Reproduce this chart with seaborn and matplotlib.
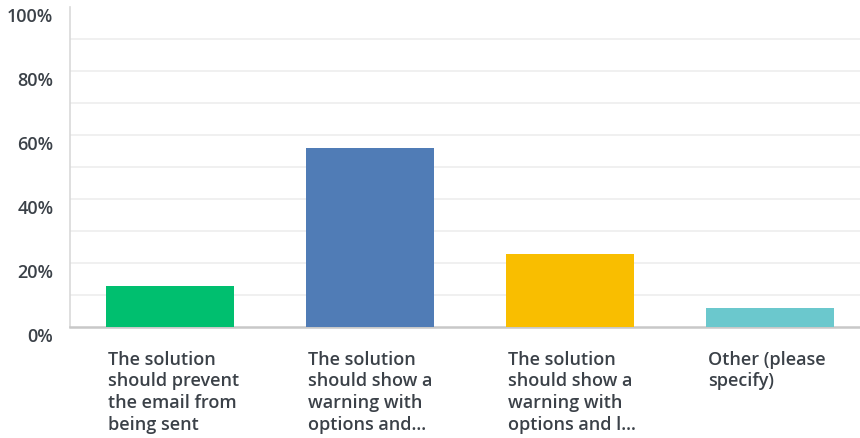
import matplotlib
matplotlib.use("Agg")
import matplotlib.pyplot as plt
import matplotlib.transforms as mtransforms
import seaborn as sns
import pandas as pd

# Survey answers and share of respondents (%)
categories = [
    "The solution\nshould prevent\nthe email from\nbeing sent",
    "The solution\nshould show a\nwarning with\noptions and...",
    "The solution\nshould show a\nwarning with\noptions and l...",
    "Other (please\nspecify)",
]
shares = [13.0, 56.0, 23.0, 6.0]
colors = ["#00BF6F", "#507CB6", "#F9BE00", "#6BC8CD"]
y_ticks = [0, 20, 40, 60, 80, 100]
y_tick_labels = ["0%", "20%", "40%", "60%", "80%", "100%"]

sns.set_theme(style="white")
plt.rcParams["font.family"] = ["Open Sans", "DejaVu Sans"]

df = pd.DataFrame({"answer": categories, "share": shares})

fig = plt.figure(figsize=(8.6, 4.39), dpi=100)
ax = fig.add_axes([70 / 860, 110.7 / 439, 790 / 860, 320.3 / 439])

sns.barplot(
    data=df, x="answer", y="share", hue="answer",
    palette=colors, legend=False, width=0.64, saturation=1,
    edgecolor="none", ax=ax, zorder=3,
)

ax.set_ylim(0, 100)
ax.set_xlim(-0.5, 3.45)
ax.set_xlabel("")
ax.set_ylabel("")

# light horizontal guides every 10%
for v in range(10, 100, 10):
    ax.axhline(v, color="#eeeeee", lw=1.2, zorder=0)

for side in ["top", "right"]:
    ax.spines[side].set_visible(False)
ax.spines["left"].set_color("#d9d9d9")
ax.spines["left"].set_linewidth(1.2)
ax.spines["bottom"].set_color("#c8c8c8")
ax.spines["bottom"].set_linewidth(1.8)

text_color = "#3b4148"
ax.set_yticks(y_ticks)
ax.set_yticklabels(y_tick_labels, fontsize=13, fontweight="semibold", color=text_color)
ax.tick_params(axis="y", length=0, pad=12)
ydown = mtransforms.ScaledTranslation(0, -9 / 100, fig.dpi_scale_trans)
for lab in ax.get_yticklabels():
    lab.set_verticalalignment("center")
    lab.set_transform(lab.get_transform() + ydown)

ax.set_xticks(range(len(categories)))
ax.set_xticklabels(categories, fontsize=13, fontweight="semibold", color=text_color,
                   linespacing=1.27)
ax.tick_params(axis="x", length=0, pad=16)
xshift = mtransforms.ScaledTranslation(-62 / 100, 0, fig.dpi_scale_trans)
for lab in ax.get_xticklabels():
    lab.set_horizontalalignment("left")
    lab.set_verticalalignment("top")
    lab.set_transform(lab.get_transform() + xshift)

fig.savefig("out.png", dpi=100)
